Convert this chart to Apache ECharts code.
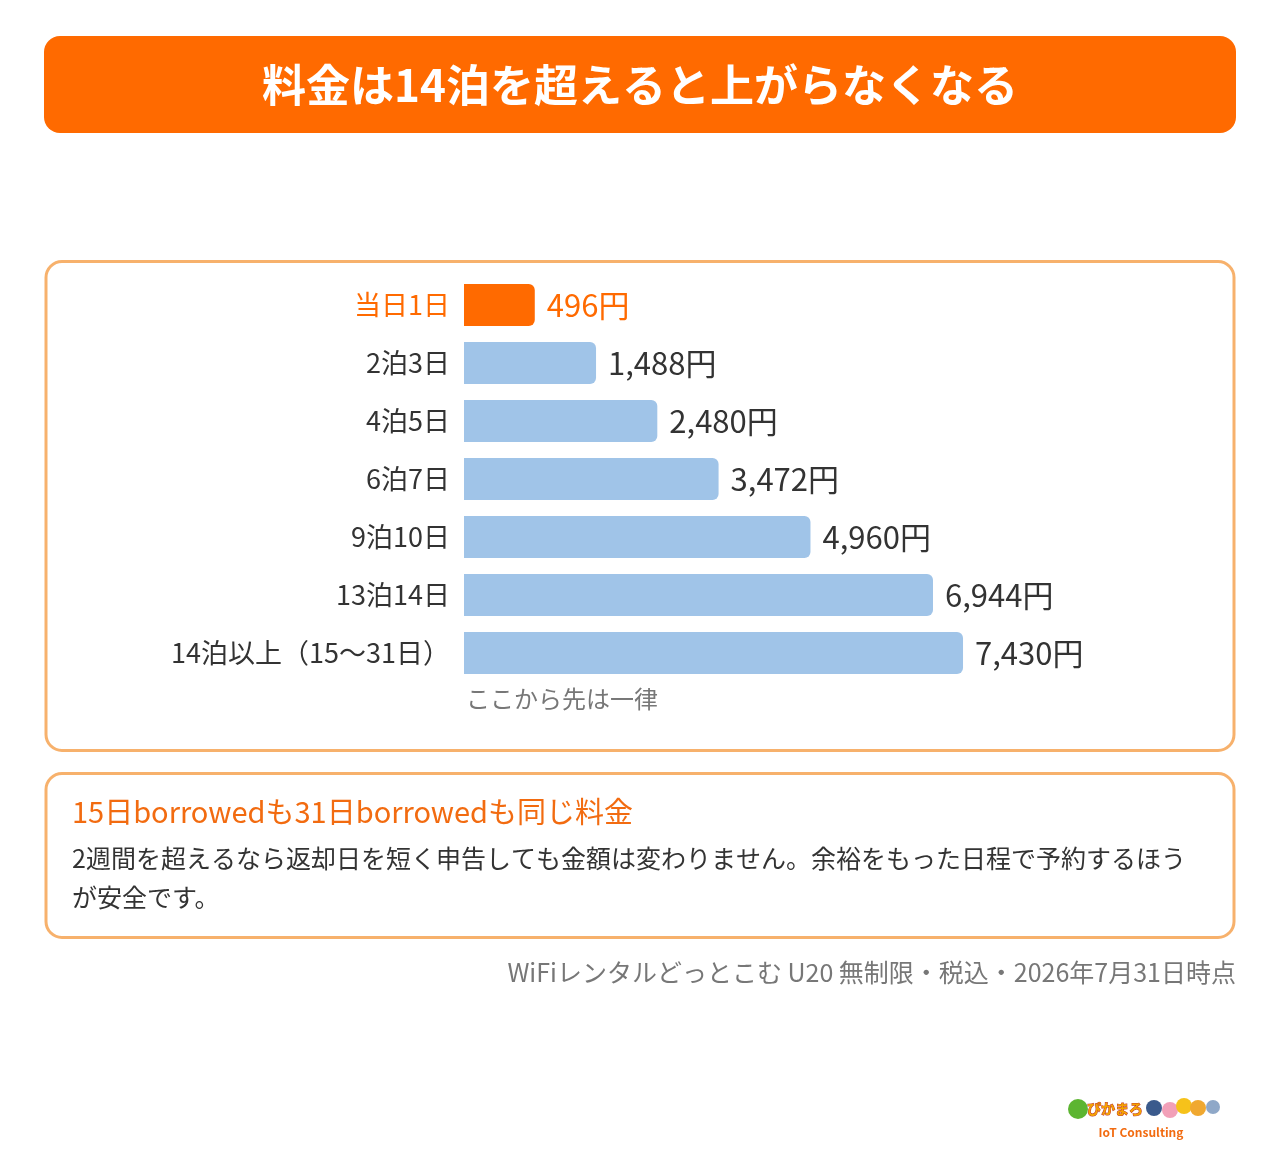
<!DOCTYPE html>
<html>
<head>
<meta charset="utf-8">
<title>料金は14泊を超えると上がらなくなる</title>
<script src="https://cdn.jsdelivr.net/npm/echarts@6/dist/echarts.min.js"></script>
<style>
  html, body { margin: 0; padding: 0; background: #fff; }
  #chart { width: 1280px; height: 1150px; }
</style>
</head>
<body>
<div id="chart"></div>
<script>
// データ
var categories = ['当日1日', '2泊3日', '4泊5日', '6泊7日', '9泊10日', '13泊14日', '14泊以上（15〜31日）'];
var prices = [496, 1488, 2480, 3472, 4960, 6944, 7430];
var highlight = [true, false, false, false, false, false, false];

var ORANGE = '#FF6A00';
var BLUE = '#A0C4E8';
var BORDER = '#F7B16C';
var FONT = '"Noto Sans CJK JP", "Noto Sans", sans-serif';
var BASE = 650; // 棒の最小長さ分（値0でも少し見えるように）
var BAR_H = 42;

var chart = echarts.init(document.getElementById('chart'));

var seriesData = [];
for (var i = 0; i < categories.length; i++) {
	seriesData.push([prices[i], i]);
}

function renderBar(params, api){
	var v = api.value(0);
	var idx = api.value(1);
	var p0 = api.coord([0, idx]);
	var p1 = api.coord([BASE + v, idx]);
	var hl = highlight[idx];
	return {
		type: 'group',
		children: [
			{
				type: 'rect',
				shape: { x: p0[0], y: p0[1] - BAR_H / 2, width: p1[0] - p0[0], height: BAR_H, r: [0, 6, 6, 0] },
				style: { fill: hl ? ORANGE : BLUE }
			},
			{
				type: 'text',
				x: p1[0] + 12, y: p1[1],
				style: {
					text: v.toLocaleString('en-US') + '円',
					fill: hl ? ORANGE : '#333',
					font: '31px ' + FONT,
					verticalAlign: 'middle'
				}
			}
		]
	};
}

var option = {
	backgroundColor: '#fff',
	animation: false,
	textStyle: { fontFamily: FONT },
	grid: { left: 464, top: 276, width: 617.6, height: 406 },
	xAxis: { type: 'value', min: 0, max: 10000, show: false },
	yAxis: {
		type: 'category',
		inverse: true,
		data: categories,
		axisLine: { show: false },
		axisTick: { show: false },
		splitLine: { show: false },
		axisLabel: {
			margin: 14,
			fontSize: 27,
			fontFamily: FONT,
			color: function(v, idx){ return highlight[idx] ? ORANGE : '#333'; }
		}
	},
	series: [
		{
			type: 'custom',
			silent: true,
			renderItem: renderBar,
			encode: { x: 0, y: 1 },
			data: seriesData
		}
	],
	graphic: [
		{ type: 'rect', z: -10, shape: { x: 44, y: 36, width: 1192, height: 97, r: 16 }, style: { fill: ORANGE } },
		{ type: 'text', z: 10, x: 640, y: 85, style: { text: '料金は14泊を超えると上がらなくなる', fill: '#fff', font: 'bold 44px ' + FONT, align: 'center', verticalAlign: 'middle' } },
		{ type: 'rect', z: -10, shape: { x: 46, y: 261.5, width: 1188, height: 489, r: 16 }, style: { fill: '#fff', stroke: BORDER, lineWidth: 3 } },
		{ type: 'text', z: 10, x: 466, y: 699, style: { text: 'ここから先は一律', fill: '#777', font: '24px ' + FONT, verticalAlign: 'middle' } },
		{ type: 'rect', z: -10, shape: { x: 46, y: 773.5, width: 1188, height: 164, r: 16 }, style: { fill: '#fff', stroke: BORDER, lineWidth: 3 } },
		{ type: 'text', z: 10, x: 72, y: 812, style: { text: '15日borrowedも31日borrowedも同じ料金', fill: '#F26B10', font: '29px ' + FONT, verticalAlign: 'middle' } },
		{ type: 'text', z: 10, x: 72, y: 838.5, style: { text: '2週間を超えるなら返却日を短く申告しても金額は変わりません。余裕をもった日程で予約するほう\nが安全です。', fill: '#333', font: '25px ' + FONT, verticalAlign: 'top', lineHeight: 39 } },
		{ type: 'text', z: 10, x: 1236, y: 972, style: { text: 'WiFiレンタルどっとこむ U20 無制限・税込・2026年7月31日時点', fill: '#777', font: '25px ' + FONT, align: 'right', verticalAlign: 'middle' } },
		// ロゴ（簡易）
		{ type: 'circle', z: 10, shape: { cx: 1078, cy: 1109, r: 10 }, style: { fill: '#5CB531' } },
		{ type: 'text', z: 10, x: 1115, y: 1109, style: { text: 'ぴかまろ', fill: '#F5A300', font: 'bold 14px ' + FONT, align: 'center', verticalAlign: 'middle', stroke: '#C0392B', lineWidth: 1 } },
		{ type: 'circle', z: 10, shape: { cx: 1154, cy: 1108, r: 8 }, style: { fill: '#3A5A8C' } },
		{ type: 'circle', z: 10, shape: { cx: 1170, cy: 1110, r: 8 }, style: { fill: '#F2A0B8' } },
		{ type: 'circle', z: 10, shape: { cx: 1184, cy: 1106, r: 8 }, style: { fill: '#F6C21A' } },
		{ type: 'circle', z: 10, shape: { cx: 1198, cy: 1108, r: 8 }, style: { fill: '#F0A830' } },
		{ type: 'circle', z: 10, shape: { cx: 1213, cy: 1107, r: 7 }, style: { fill: '#8FA8C8' } },
		{ type: 'text', z: 10, x: 1141, y: 1132, style: { text: 'IoT Consulting', fill: '#F26B10', font: 'bold 12px ' + FONT, align: 'center', verticalAlign: 'middle' } }
	]
};

chart.setOption(option);
</script>
</body>
</html>
